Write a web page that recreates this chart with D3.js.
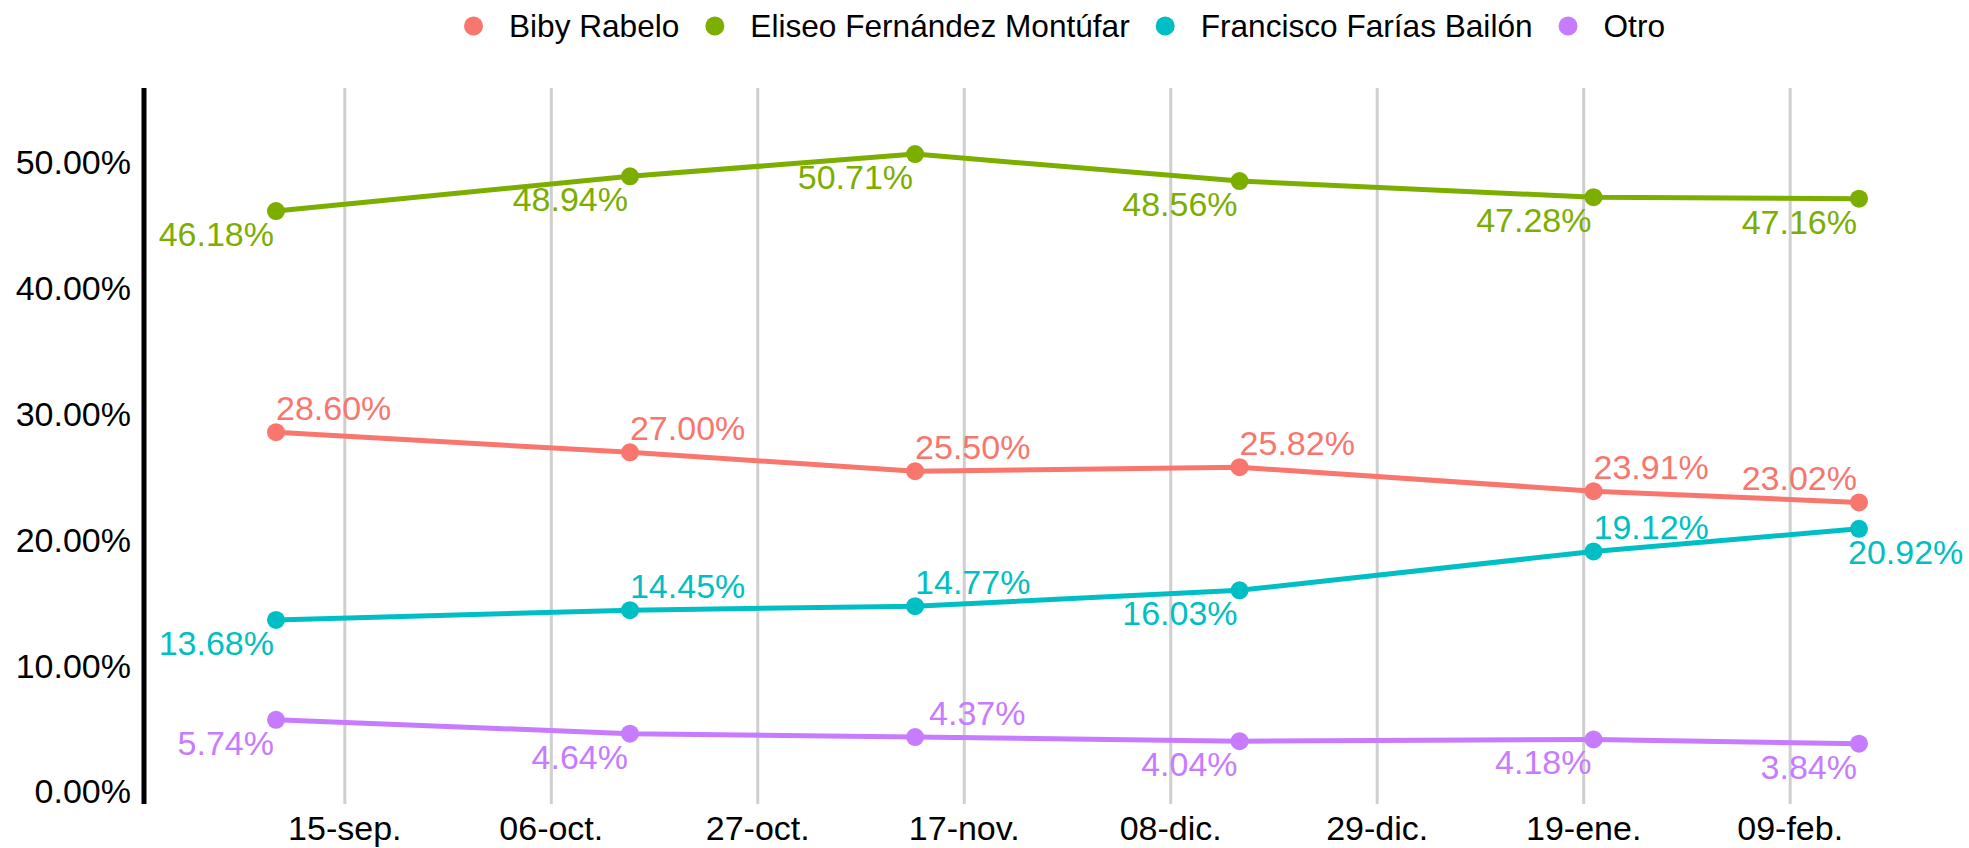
<!DOCTYPE html>
<html>
<head>
<meta charset="utf-8">
<script src="https://cdn.jsdelivr.net/npm/d3@7"></script>
<style>
  body { margin: 0; background: #fff; }
  text { font-family: "Liberation Sans", Arial, sans-serif; }
</style>
</head>
<body>
<div id="chart"></div>
<script>
// data
var series = ["Biby Rabelo", "Eliseo Fernández Montúfar", "Francisco Farías Bailón", "Otro"];
var fechas = ["2020-09-08", "2020-10-14", "2020-11-12", "2020-12-15", "2021-01-20", "2021-02-16"];
var biby = [28.60, 27.00, 25.50, 25.82, 23.91, 23.02];
var eliseo = [46.18, 48.94, 50.71, 48.56, 47.28, 47.16];
var francisco = [13.68, 14.45, 14.77, 16.03, 19.12, 20.92];
var otro = [5.74, 4.64, 4.37, 4.04, 4.18, 3.84];
var tickFechas = ["2020-09-15", "2020-10-06", "2020-10-27", "2020-11-17", "2020-12-08", "2020-12-29", "2021-01-19", "2021-02-09"];
var tickLabels = ["15-sep.", "06-oct.", "27-oct.", "17-nov.", "08-dic.", "29-dic.", "19-ene.", "09-feb."];
var yTicks = [0, 10, 20, 30, 40, 50];

// where each value label sits (a = above, b = below, r/l = side of the point)
var labelPos = [
	["ar", "ar", "ar", "ar", "ar", "al"],
	["bl", "bl", "bl", "bl", "bl", "bl"],
	["bl", "ar", "ar", "bl", "ar", "br"],
	["bl", "bl", "ar", "bl", "bl", "bl"]
];
var labelNudge = { "2-5": -11, "3-2": 14 };

var colors = ["#F8766D", "#7CAE00", "#00BFC4", "#C77CFF"];
var values = [biby, eliseo, francisco, otro];

var width = 1969, height = 848;
var fontSize = 34, legendSize = 31.6;
var parse = d3.timeParse("%Y-%m-%d");

var svg = d3.select("#chart")
	.append("svg")
	.attr("width", width)
	.attr("height", height);

var x = d3.scaleTime()
	.domain([parse(fechas[0]), parse(fechas[fechas.length - 1])])
	.range([276, 1859]);

var y = d3.scaleLinear()
	.domain([0, 50])
	.range([792, 163]);

var plotTop = 88, plotBottom = 804, axisX = 144;

// vertical grid
svg.append("g")
	.selectAll("line")
	.data(tickFechas)
	.enter()
	.append("line")
	.attr("x1", function (d) { return x(parse(d)); })
	.attr("x2", function (d) { return x(parse(d)); })
	.attr("y1", plotTop)
	.attr("y2", plotBottom)
	.attr("stroke", "#cfcfcf")
	.attr("stroke-width", 3);

// x tick labels
svg.append("g")
	.selectAll("text")
	.data(tickFechas)
	.enter()
	.append("text")
	.attr("x", function (d) { return x(parse(d)); })
	.attr("y", 840)
	.attr("text-anchor", "middle")
	.attr("font-size", fontSize)
	.attr("fill", "#000")
	.text(function (d, i) { return tickLabels[i]; });

// y axis
var yAxis = d3.axisLeft(y)
	.tickValues(yTicks)
	.tickSize(0)
	.tickPadding(13)
	.tickFormat(function (d) { return d3.format(".2f")(d) + "%"; });

var gy = svg.append("g")
	.attr("transform", "translate(" + axisX + ",0)")
	.call(yAxis);
gy.select(".domain").remove();
gy.selectAll("text")
	.attr("font-size", fontSize)
	.attr("font-family", "Liberation Sans, Arial, sans-serif")
	.attr("fill", "#000");

svg.append("line")
	.attr("x1", axisX).attr("x2", axisX)
	.attr("y1", plotTop).attr("y2", plotBottom)
	.attr("stroke", "#000")
	.attr("stroke-width", 5);

// lines, points and labels
var line = d3.line()
	.x(function (d, i) { return x(parse(fechas[i])); })
	.y(function (d) { return y(d); });

values.forEach(function (vals, s) {
	var g = svg.append("g");

	g.append("path")
		.datum(vals)
		.attr("d", line)
		.attr("fill", "none")
		.attr("stroke", colors[s])
		.attr("stroke-width", 5)
		.attr("stroke-linejoin", "round");

	g.selectAll("circle")
		.data(vals)
		.enter()
		.append("circle")
		.attr("cx", function (d, i) { return x(parse(fechas[i])); })
		.attr("cy", function (d) { return y(d); })
		.attr("r", 9)
		.attr("fill", colors[s]);

	g.selectAll("text")
		.data(vals)
		.enter()
		.append("text")
		.attr("x", function (d, i) {
			var pos = labelPos[s][i];
			var nud = labelNudge[s + "-" + i] || 0;
			var px = x(parse(fechas[i]));
			return (pos[1] === "l" ? px - 2 : px) + nud;
		})
		.attr("y", function (d, i) {
			var pos = labelPos[s][i];
			return pos[0] === "a" ? y(d) - 12 : y(d) + 35;
		})
		.attr("text-anchor", function (d, i) {
			return labelPos[s][i][1] === "l" ? "end" : "start";
		})
		.attr("font-size", fontSize)
		.attr("fill", colors[s])
		.text(function (d) { return d3.format(".2f")(d) + "%"; });
});

// legend
var legend = svg.append("g");
var lx = 464;
series.forEach(function (name, i) {
	legend.append("circle")
		.attr("cx", lx + 9.5)
		.attr("cy", 26)
		.attr("r", 9.5)
		.attr("fill", colors[i]);
	var t = legend.append("text")
		.attr("x", lx + 45)
		.attr("y", 26)
		.attr("dy", "0.35em")
		.attr("font-size", legendSize)
		.attr("fill", "#000")
		.text(name);
	lx = lx + 45 + t.node().getComputedTextLength() + 26;
});
</script>
</body>
</html>
